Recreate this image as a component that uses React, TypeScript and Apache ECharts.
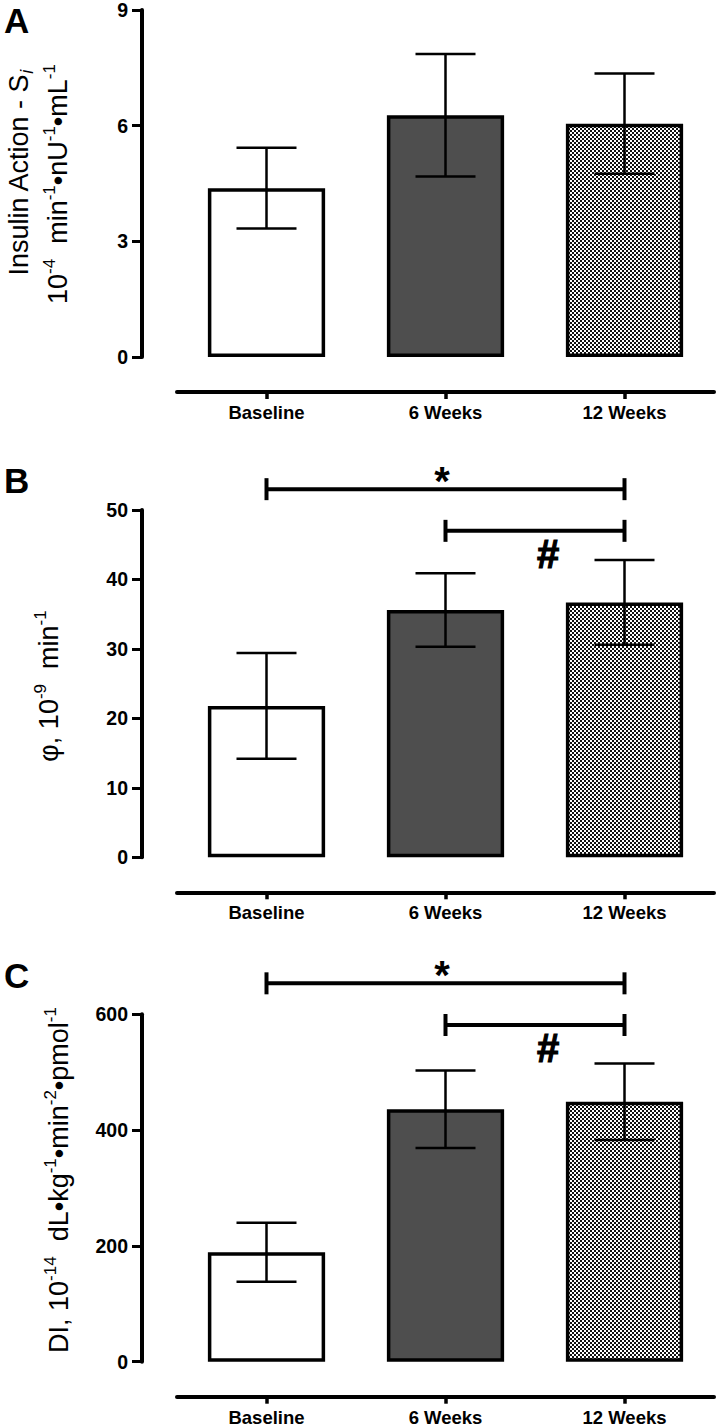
import React, { useEffect, useRef } from 'react';
import * as echarts from 'echarts';

// ---- data ----
const categories = ['Baseline', '6 Weeks', '12 Weeks'];

const siMean = [4.38, 6.27, 6.05];
const siErr = [1.05, 1.59, 1.3];
const siTicks = [0, 3, 6, 9];

const phiMean = [21.8, 35.6, 36.7];
const phiErr = [7.6, 5.3, 6.1];
const phiTicks = [0, 10, 20, 30, 40, 50];
const phiBrackets = [
  [0, 2, 53.0],
  [1, 2, 47.0],
];
const phiMarks = ['*', '#'];

const diMean = [189, 436, 449];
const diErr = [51, 67, 66];
const diTicks = [0, 200, 400, 600];
const diBrackets = [
  [0, 2, 653.5],
  [1, 2, 581.5],
];
const diMarks = ['*', '#'];

const FONT = '"Liberation Sans", Arial, Helvetica, sans-serif';

export default function App() {
  const ref = useRef<HTMLDivElement>(null);

  useEffect(() => {
    const chart = echarts.init(ref.current!, null, { renderer: 'svg' });

    const cv = document.createElement('canvas');
    cv.width = 4;
    cv.height = 4;
    const ctx = cv.getContext('2d')!;
    ctx.fillStyle = '#ffffff';
    ctx.fillRect(0, 0, 4, 4);
    ctx.fillStyle = '#111111';
    ctx.fillRect(0, 0, 2, 2);
    ctx.fillRect(2, 2, 2, 2);
    const checker: any = { image: cv.toDataURL(), repeat: 'repeat', imageWidth: 4, imageHeight: 4 };
    const fills: any[] = ['#ffffff', '#4e4e4e', checker];

    const panels = [
      { mean: siMean, err: siErr, ticks: siTicks, top: 10, height: 347, brackets: [] as number[][], marks: [] as string[] },
      { mean: phiMean, err: phiErr, ticks: phiTicks, top: 510, height: 347.3, brackets: phiBrackets, marks: phiMarks },
      { mean: diMean, err: diErr, ticks: diTicks, top: 1014.3, height: 347.4, brackets: diBrackets, marks: diMarks },
    ];

    const grids: any[] = [];
    const xAxes: any[] = [];
    const yAxes: any[] = [];
    const series: any[] = [];

    panels.forEach((p, i) => {
      grids.push({ left: 177, width: 537, top: p.top, height: p.height, containLabel: false });
      xAxes.push({
        type: 'category',
        gridIndex: i,
        data: categories,
        offset: 35,
        axisLine: { show: true, onZero: false, lineStyle: { color: '#000', width: 4 } },
        axisTick: { show: true, alignWithLabel: true, length: 7, lineStyle: { color: '#000', width: 3.5 } },
        axisLabel: { color: '#000', fontFamily: FONT, fontWeight: 'bold', fontSize: 18.5, margin: 11 },
        splitLine: { show: false },
      });
      yAxes.push({
        type: 'value',
        gridIndex: i,
        min: p.ticks[0],
        max: p.ticks[p.ticks.length - 1],
        interval: p.ticks[1] - p.ticks[0],
        offset: 35,
        axisLine: { show: true, onZero: false, lineStyle: { color: '#000', width: 4 } },
        axisTick: { show: true, length: 10, lineStyle: { color: '#000', width: 3 } },
        axisLabel: { color: '#000', fontFamily: FONT, fontWeight: 'bold', fontSize: 19.5, margin: 14 },
        splitLine: { show: false },
      });
      series.push({
        type: 'bar',
        xAxisIndex: i,
        yAxisIndex: i,
        barWidth: '65.5%',
        silent: true,
        data: p.mean.map((v, j) => ({ value: v, itemStyle: { color: fills[j] } })),
        itemStyle: { borderColor: '#000', borderWidth: 3.5 },
        emphasis: { disabled: true },
      });
      series.push({
        type: 'custom',
        xAxisIndex: i,
        yAxisIndex: i,
        silent: true,
        z: 10,
        encode: { x: 0, y: 1 },
        data: p.mean.map((v, j) => [j, v, p.err[j]]),
        renderItem: (params: any, api: any) => {
          const x = api.value(0);
          const m = api.value(1);
          const e = api.value(2);
          const hi = api.coord([x, m + e]);
          const lo = api.coord([x, m - e]);
          const hw = 30;
          const st = { stroke: '#000', lineWidth: 2.5 };
          return {
            type: 'group',
            children: [
              { type: 'line', shape: { x1: hi[0], y1: hi[1], x2: lo[0], y2: lo[1] }, style: st },
              { type: 'line', shape: { x1: hi[0] - hw, y1: hi[1], x2: hi[0] + hw, y2: hi[1] }, style: st },
              { type: 'line', shape: { x1: lo[0] - hw, y1: lo[1], x2: lo[0] + hw, y2: lo[1] }, style: st },
            ],
          };
        },
      });
      if (p.brackets.length) {
        series.push({
          type: 'custom',
          xAxisIndex: i,
          yAxisIndex: i,
          silent: true,
          clip: false,
          z: 11,
          encode: { x: [0, 1], y: 2 },
          data: p.brackets,
          renderItem: (params: any, api: any) => {
            const a = api.coord([api.value(0), api.value(2)]);
            const b = api.coord([api.value(1), api.value(2)]);
            const mark = p.marks[params.dataIndex];
            const st = { stroke: '#000', lineWidth: 4 };
            const cap = 11;
            const mid = (a[0] + b[0]) / 2;
            const isStar = mark === '*';
            return {
              type: 'group',
              children: [
                { type: 'line', shape: { x1: a[0], y1: a[1], x2: b[0], y2: b[1] }, style: st },
                { type: 'line', shape: { x1: a[0], y1: a[1] - cap, x2: a[0], y2: a[1] + cap }, style: st },
                { type: 'line', shape: { x1: b[0], y1: b[1] - cap, x2: b[0], y2: b[1] + cap }, style: st },
                {
                  type: 'text',
                  x: isStar ? mid - 3.5 : mid + 13,
                  y: isStar ? a[1] - 8 : a[1] + 23,
                  style: {
                    text: mark,
                    font: 'bold 40px ' + FONT,
                    fontSize: 40,
                    fontWeight: 'bold',
                    fontFamily: FONT,
                    fill: '#000',
                    stroke: isStar ? undefined : '#000',
                    lineWidth: isStar ? 0 : 1.2,
                    align: 'center',
                    verticalAlign: 'middle',
                  },
                },
              ],
            };
          },
        });
      }
    });

    const rich = {
      n: { fontSize: 27, lineHeight: 34, fontFamily: FONT, fill: '#000' },
      s: { fontSize: 17, lineHeight: 17, verticalAlign: 'top', fontFamily: FONT, fill: '#000' },
      i: { fontSize: 18, lineHeight: 18, verticalAlign: 'bottom', fontStyle: 'italic', fontFamily: FONT, fill: '#000' },
    };
    const nameText = (x: number, y: number, text: string) => ({
      type: 'text',
      x,
      y,
      rotation: Math.PI / 2,
      silent: true,
      style: { text, rich, fill: '#000', fontFamily: FONT, fontSize: 27, align: 'center', verticalAlign: 'middle' },
    });
    const letter = (y: number, text: string) => ({
      type: 'text',
      x: 4,
      y,
      silent: true,
      style: { text, fill: '#000', font: 'bold 35px ' + FONT, fontFamily: FONT, fontSize: 35, fontWeight: 'bold', align: 'left', verticalAlign: 'middle' },
    });

    chart.setOption({
      animation: false,
      backgroundColor: '#ffffff',
      grid: grids,
      xAxis: xAxes,
      yAxis: yAxes,
      series,
      graphic: [
        letter(20, 'A'),
        letter(480, 'B'),
        letter(975, 'C'),
        nameText(18.5, 173, '{n|Insulin Action - S}{i|i}'),
        nameText(58, 184, '{n|10}{s|-4}{n|  min}{s|-1}{n|•nU}{s|-1}{n|•mL}{s|-1}'),
        nameText(48.5, 686, '{n|φ, 10}{s|-9}{n|  min}{s|-1}'),
        nameText(59, 1180, '{n|DI, 10}{s|-14}{n|  dL•kg}{s|-1}{n|•min}{s|-2}{n|•pmol}{s|-1}'),
      ],
    });

    return () => chart.dispose();
  }, []);

  return (
    <div
      ref={ref}
      style={{ position: 'absolute', left: 0, top: 0, width: 719, height: 1428, background: '#fff' }}
    />
  );
}
